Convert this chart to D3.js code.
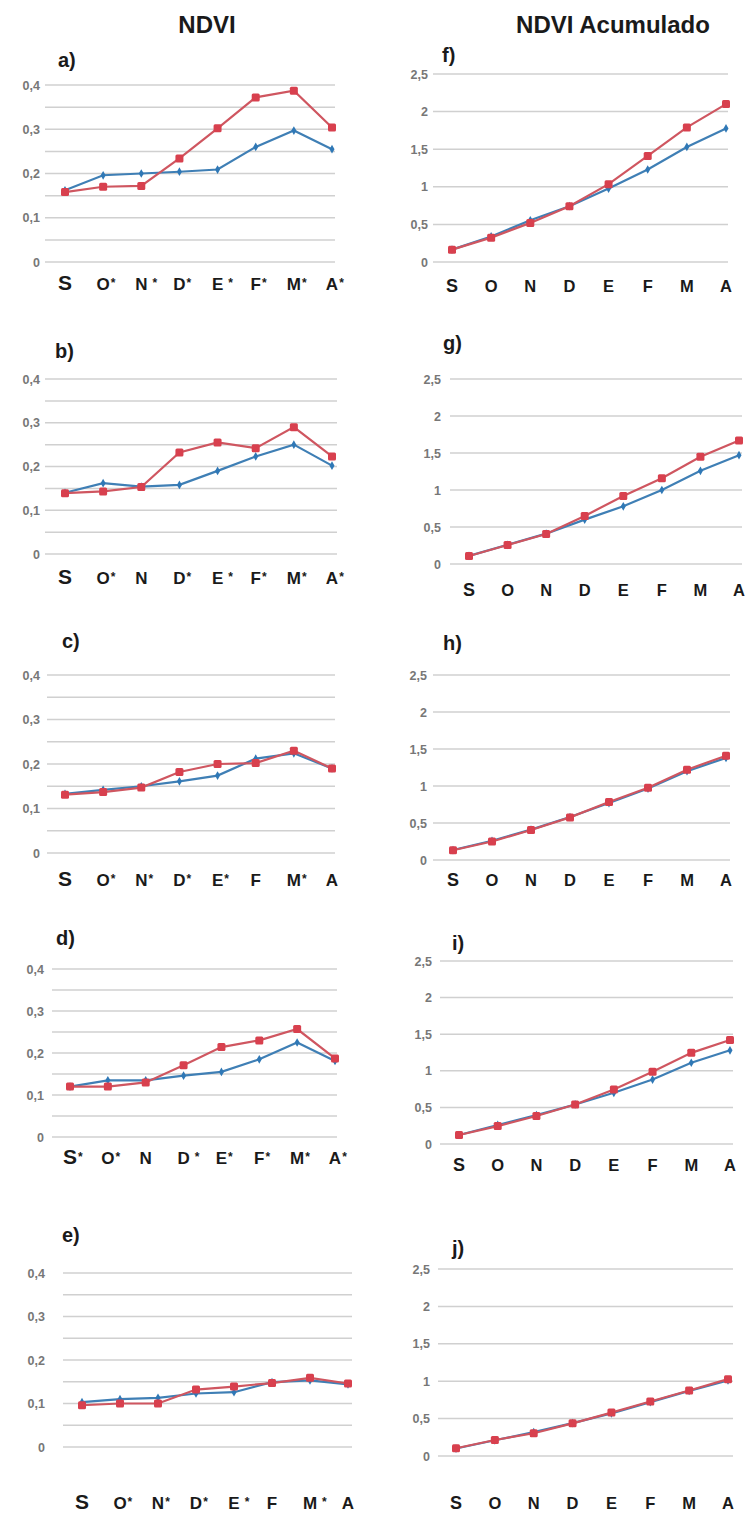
<!DOCTYPE html>
<html lang="es">
<head>
<meta charset="UTF-8">
<title>NDVI y NDVI Acumulado</title>
<style>
  body { margin: 0; background: #fff; }
  svg  { display: block; }
  .grid line { stroke: #d0d0d0; stroke-width: 1.5; }
  .ytick { font: bold 12.5px "Liberation Sans", Arial, sans-serif; fill: #777; }
  .xlab  { font-family: "Liberation Sans", Arial, sans-serif; font-weight: bold; fill: #1a1a1a; }
  .panel { font: bold 20px "Liberation Sans", Arial, sans-serif; fill: #1a1a1a; }
  .title { font: bold 24px "Liberation Sans", Arial, sans-serif; fill: #1a1a1a; }
</style>
</head>
<body>
<svg id="chart" width="753" height="1514"></svg>

<script src="https://d3js.org/d3.v7.min.js"></script>
<script>
/* ---------------- Data ---------------- */
const months = ['S', 'O', 'N', 'D', 'E', 'F', 'M', 'A'];

// x labels of the NDVI panels (asterisk = significant difference)
const labelsA = ['S', 'O*', 'N *', 'D*', 'E *', 'F*', 'M*', 'A*'];
const labelsB = ['S', 'O*', 'N', 'D*', 'E *', 'F*', 'M*', 'A*'];
const labelsC = ['S', 'O*', 'N*', 'D*', 'E*', 'F', 'M*', 'A'];
const labelsD = ['S*', 'O*', 'N', 'D *', 'E*', 'F*', 'M*', 'A*'];
const labelsE = ['S', 'O*', 'N*', 'D*', 'E *', 'F', 'M *', 'A'];

// NDVI, blue and red series
const blueA = [0.162, 0.196, 0.200, 0.204, 0.209, 0.260, 0.297, 0.255];
const redA  = [0.158, 0.170, 0.172, 0.234, 0.302, 0.372, 0.387, 0.304];
const blueB = [0.140, 0.162, 0.154, 0.158, 0.190, 0.223, 0.250, 0.202];
const redB  = [0.139, 0.143, 0.153, 0.232, 0.255, 0.242, 0.290, 0.223];
const blueC = [0.133, 0.142, 0.150, 0.161, 0.174, 0.212, 0.224, 0.190];
const redC  = [0.131, 0.137, 0.147, 0.182, 0.200, 0.202, 0.230, 0.190];
const blueD = [0.120, 0.135, 0.135, 0.146, 0.155, 0.185, 0.225, 0.181];
const redD  = [0.120, 0.120, 0.130, 0.171, 0.214, 0.230, 0.257, 0.187];
const blueE = [0.103, 0.110, 0.113, 0.123, 0.126, 0.149, 0.153, 0.144];
const redE  = [0.096, 0.100, 0.100, 0.132, 0.139, 0.147, 0.159, 0.146];

// NDVI acumulado
const blueF = [0.164, 0.340, 0.555, 0.742, 0.977, 1.230, 1.530, 1.776];
const redF  = [0.164, 0.324, 0.520, 0.742, 1.035, 1.410, 1.790, 2.100];
const blueG = [0.110, 0.260, 0.410, 0.600, 0.780, 1.000, 1.260, 1.470];
const redG  = [0.108, 0.257, 0.406, 0.650, 0.920, 1.160, 1.450, 1.670];
const blueH = [0.135, 0.260, 0.410, 0.580, 0.770, 0.965, 1.200, 1.380];
const redH  = [0.132, 0.250, 0.405, 0.576, 0.785, 0.975, 1.220, 1.410];
const blueI = [0.123, 0.260, 0.395, 0.540, 0.700, 0.880, 1.110, 1.280];
const redI  = [0.123, 0.245, 0.382, 0.540, 0.745, 0.986, 1.245, 1.420];
const blueJ = [0.100, 0.210, 0.320, 0.440, 0.570, 0.720, 0.870, 1.010];
const redJ  = [0.103, 0.214, 0.304, 0.437, 0.580, 0.728, 0.875, 1.027];

const ndviTicks = [0, 0.1, 0.2, 0.3, 0.4];
const ndviGrid  = d3.range(0, 0.401, 0.05);
const acumTicks = [0, 0.5, 1, 1.5, 2, 2.5];

/* ---------------- Layout ---------------- */
// gx0/gx1 grid extent, px0/px1 first/last point, yTop/yBot value axis, lab = panel letter
const panels = [
  {id:'a)', lab:[58, 67],  gx0:45,  gx1:335, px0:65,  px1:332, yTop:85,   yBot:262,  xlabY:290,  tickX:40,  kind:'ndvi', labels:labelsA, blue:blueA, red:redA},
  {id:'b)', lab:[55, 358], gx0:45,  gx1:337, px0:65,  px1:332, yTop:379,  yBot:554,  xlabY:584,  tickX:40,  kind:'ndvi', labels:labelsB, blue:blueB, red:redB},
  {id:'c)', lab:[62, 648], gx0:47,  gx1:335, px0:65,  px1:332, yTop:675,  yBot:853,  xlabY:886,  tickX:40,  kind:'ndvi', labels:labelsC, blue:blueC, red:redC},
  {id:'d)', lab:[56, 945], gx0:52,  gx1:337, px0:70,  px1:335, yTop:969,  yBot:1137, xlabY:1164, tickX:44,  kind:'ndvi', labels:labelsD, blue:blueD, red:redD},
  {id:'e)', lab:[62, 1242],gx0:63,  gx1:352, px0:82,  px1:348, yTop:1273, yBot:1447, xlabY:1509, tickX:45,  kind:'ndvi', labels:labelsE, blue:blueE, red:redE},
  {id:'f)', lab:[442, 62], gx0:433, gx1:728, px0:452, px1:726, yTop:74,   yBot:262,  xlabY:292,  tickX:428, kind:'acum', labels:months, blue:blueF, red:redF},
  {id:'g)', lab:[443, 350],gx0:450, gx1:742, px0:469, px1:739, yTop:379,  yBot:564,  xlabY:596,  tickX:441, kind:'acum', labels:months, blue:blueG, red:redG},
  {id:'h)', lab:[443, 650],gx0:433, gx1:730, px0:453, px1:726, yTop:675,  yBot:860,  xlabY:886,  tickX:427, kind:'acum', labels:months, blue:blueH, red:redH},
  {id:'i)', lab:[452, 950],gx0:440, gx1:733, px0:459, px1:730, yTop:961,  yBot:1144, xlabY:1171, tickX:432, kind:'acum', labels:months, blue:blueI, red:redI},
  {id:'j)', lab:[452, 1255],gx0:438,gx1:733, px0:456, px1:728, yTop:1269, yBot:1456, xlabY:1509, tickX:430, kind:'acum', labels:months, blue:blueJ, red:redJ}
];

const BLUE = '#3f7fb5', BLUE_MK = '#2f78b6';
const RED  = '#cf5660', RED_MK  = '#d8404e';

const svg = d3.select('#chart');

// column titles
svg.append('text').attr('class', 'title').attr('x', 207).attr('y', 33)
  .attr('text-anchor', 'middle').text('NDVI');
svg.append('text').attr('class', 'title').attr('x', 613).attr('y', 33)
  .attr('text-anchor', 'middle').text('NDVI Acumulado');

const fmt = v => String(+v.toFixed(2)).replace('.', ',');

panels.forEach(p => {
  const isNdvi = p.kind === 'ndvi';
  const g = svg.append('g');

  const x = d3.scalePoint().domain(months).range([p.px0, p.px1]);
  const y = d3.scaleLinear().domain(isNdvi ? [0, 0.4] : [0, 2.5]).range([p.yBot, p.yTop]);

  // panel letter
  g.append('text').attr('class', 'panel').attr('x', p.lab[0]).attr('y', p.lab[1]).text(p.id);

  // horizontal gridlines
  g.append('g').attr('class', 'grid').selectAll('line')
    .data(isNdvi ? ndviGrid : acumTicks)
    .join('line')
      .attr('x1', p.gx0).attr('x2', p.gx1)
      .attr('y1', d => y(d)).attr('y2', d => y(d));

  // y tick labels via a left axis without domain/ticks
  const yAxis = d3.axisLeft(y)
    .tickValues(isNdvi ? ndviTicks : acumTicks)
    .tickSize(0).tickPadding(0)
    .tickFormat(fmt);
  const ax = g.append('g').attr('transform', `translate(${p.tickX},0)`).call(yAxis);
  ax.select('.domain').remove();
  ax.selectAll('text').attr('class', 'ytick').attr('fill', null).attr('font-size', null).attr('font-family', null);

  // x labels: letter centred on the point, asterisk after it
  const bigS = isNdvi ? 21 : 18;
  const base = isNdvi ? 17 : 16.5;
  p.labels.forEach((lbl, i) => {
    const letter = lbl[0];
    const rest = lbl.slice(1);
    const cx = x(months[i]);
    const t = g.append('text').attr('class', 'xlab')
      .attr('x', cx).attr('y', p.xlabY)
      .attr('text-anchor', 'middle')
      .attr('font-size', i === 0 ? bigS : base)
      .text(letter);
    if (rest.includes('*')) {
      const w = t.node().getComputedTextLength();
      const gap = rest.startsWith(' ') ? 5 : 1;
      g.append('text').attr('class', 'xlab')
        .attr('x', cx + w / 2 + gap).attr('y', p.xlabY - 3)
        .attr('font-size', 12)
        .text('*');
    }
  });

  const line = d3.line().x((d, i) => x(months[i])).y(d => y(d));

  // blue series (behind)
  g.append('path').datum(p.blue)
    .attr('fill', 'none').attr('stroke', BLUE).attr('stroke-width', 2.2)
    .attr('d', line);
  g.append('g').selectAll('path')
    .data(p.blue)
    .join('path')
      .attr('transform', (d, i) => `translate(${x(months[i])},${y(d)})`)
      .attr('d', d3.symbol(d3.symbolDiamond, 22))
      .attr('fill', BLUE_MK);

  // red series (front)
  g.append('path').datum(p.red)
    .attr('fill', 'none').attr('stroke', RED).attr('stroke-width', 2.2)
    .attr('d', line);
  g.append('g').selectAll('rect')
    .data(p.red)
    .join('rect')
      .attr('x', (d, i) => x(months[i]) - 4)
      .attr('y', d => y(d) - 4)
      .attr('width', 8).attr('height', 8)
      .attr('rx', 1.5)
      .attr('fill', RED_MK);
});
</script>
</body>
</html>
